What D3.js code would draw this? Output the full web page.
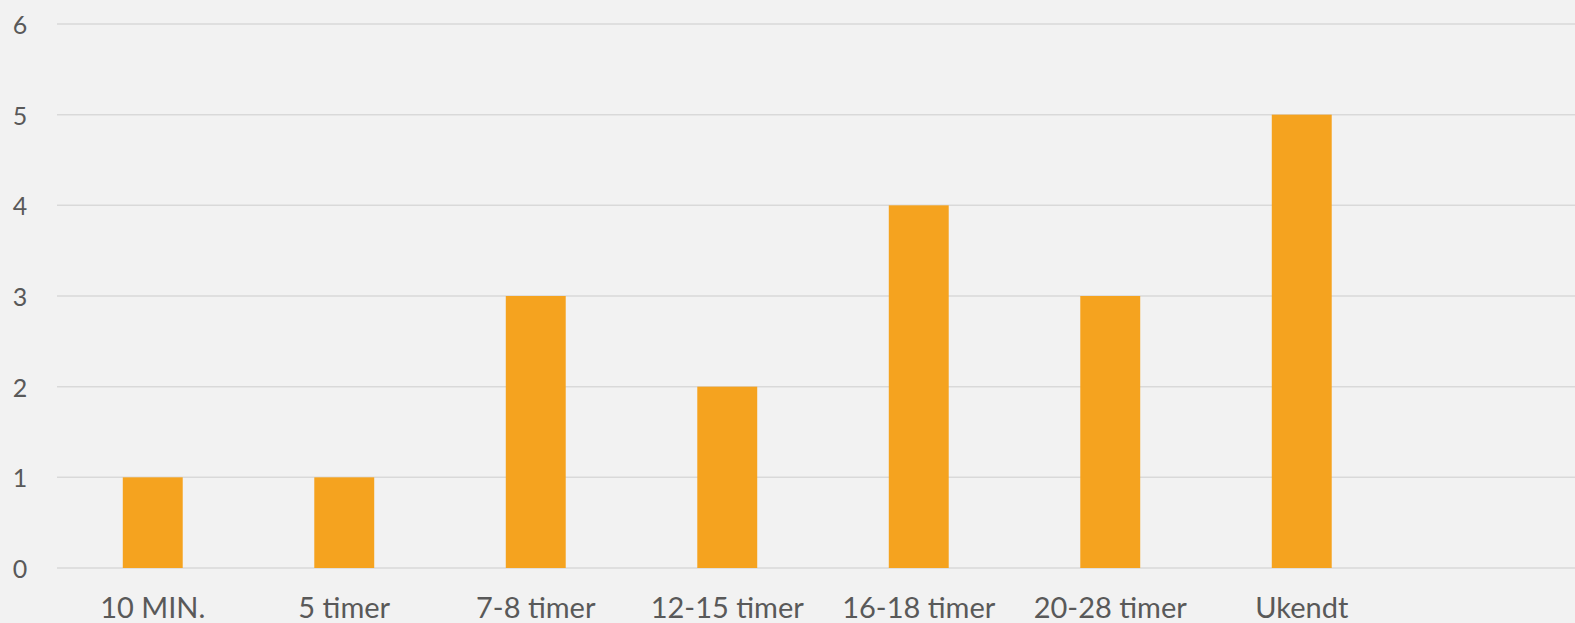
<!DOCTYPE html>
<html>
<head>
<meta charset="utf-8">
<script src="https://cdn.jsdelivr.net/npm/d3@7"></script>
<style>
  html, body { margin: 0; padding: 0; background: #f2f2f2; overflow: hidden; }
  svg { display: block; }
</style>
</head>
<body>
<svg id="chart" width="1575" height="623"></svg>
<script>
// Duration categories and counts
const categories = ["10 MIN.", "5 timer", "7-8 timer", "12-15 timer", "16-18 timer", "20-28 timer", "Ukendt"];
const counts = [1, 1, 3, 2, 4, 3, 5];
const yTicks = [0, 1, 2, 3, 4, 5, 6];
// one trailing empty slot on the category axis
const slots = categories.concat([""]);

(function draw() {
  const svg = d3.select("#chart");
  const W = 1575, H = 623;
  const plotLeft = 57, plotRight = 1589, plotTop = 24, plotBottom = 568;

  svg.append("rect").attr("width", W).attr("height", H).attr("fill", "#f2f2f2");

  const x = d3.scaleBand()
    .domain(slots)
    .range([plotLeft, plotRight])
    .paddingInner(0.687)
    .paddingOuter(0.3435);

  const y = d3.scaleLinear().domain([0, 6]).range([plotBottom, plotTop]);

  // horizontal gridlines
  svg.append("g")
    .selectAll("line")
    .data(yTicks)
    .join("line")
    .attr("x1", plotLeft)
    .attr("x2", W)
    .attr("y1", d => y(d))
    .attr("y2", d => y(d))
    .attr("stroke", "#d9d9d9")
    .attr("stroke-width", 1.5);

  // bars
  svg.append("g")
    .selectAll("rect")
    .data(categories)
    .join("rect")
    .attr("x", d => x(d))
    .attr("width", x.bandwidth())
    .attr("y", (d, i) => y(counts[i]))
    .attr("height", (d, i) => y(0) - y(counts[i]))
    .attr("fill", "#f5a31f");

  // value axis labels
  const yAxis = d3.axisLeft(y).tickValues(yTicks).tickFormat(d3.format("d")).tickSize(0).tickPadding(0);
  const gy = svg.append("g").attr("transform", "translate(20,0)").call(yAxis);
  gy.select(".domain").remove();
  gy.selectAll("text")
    .attr("text-anchor", "middle")
    .attr("dy", "0.38em")
    .attr("fill", "#595959")
    .style("font-family", "Lato, 'Open Sans', sans-serif")
    .style("font-size", "25px");

  // category axis labels
  const xAxis = d3.axisBottom(x).tickSize(0).tickPadding(0);
  const gx = svg.append("g").attr("transform", `translate(0,${plotBottom})`).call(xAxis);
  gx.select(".domain").remove();
  gx.selectAll("text")
    .attr("y", 50)
    .attr("dy", 0)
    .attr("fill", "#595959")
    .style("font-family", "Lato, 'Open Sans', sans-serif")
    .style("font-size", "29px");
})();
</script>
</body>
</html>
